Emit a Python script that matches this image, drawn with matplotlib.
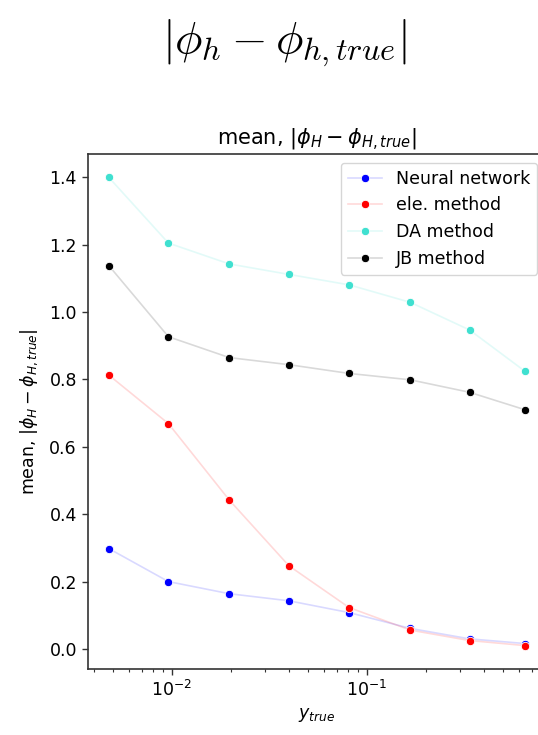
import matplotlib
matplotlib.use("Agg")
import matplotlib.pyplot as plt

# y_true bin centres
y_true = [0.00475, 0.0096, 0.0197, 0.0398, 0.081, 0.167, 0.336, 0.648]

neural = [0.298, 0.200, 0.164, 0.143, 0.108, 0.061, 0.030, 0.016]
ele = [0.813, 0.669, 0.442, 0.247, 0.123, 0.056, 0.025, 0.010]
da = [1.400, 1.205, 1.143, 1.112, 1.081, 1.029, 0.947, 0.824]
jb = [1.138, 0.927, 0.865, 0.844, 0.818, 0.799, 0.762, 0.710]

series = [
    ("Neural network", neural, "blue"),
    ("ele. method", ele, "red"),
    ("DA method", da, "turquoise"),
    ("JB method", jb, "black"),
]

FS = 12.5

fig = plt.figure(figsize=(5.38, 7.35), dpi=100)
fig.patch.set_facecolor("white")

# big header rendered like LaTeX
fig.text(0.528, 0.942, r"$|\phi_h - \phi_{h,true}|$", ha="center", va="center",
         fontsize=33, math_fontfamily="cm")

ax = fig.add_axes([0.1636, 0.0898, 0.8513, 0.7007])

for label, vals, c in series:
    rgba = matplotlib.colors.to_rgba(c, 0.15)
    ax.plot(y_true, vals, color=rgba, linewidth=1.2, marker="o", markersize=6,
            markerfacecolor=c, markeredgecolor="white", markeredgewidth=0.6,
            label=label)

ax.set_xscale("log")
ax.set_title(r"mean, $|\phi_H - \phi_{H,true}|$", fontsize=FS * 1.2, pad=7)
ax.set_ylabel(r"mean, $|\phi_H - \phi_{H,true}|$", fontsize=FS, labelpad=7)
ax.set_xlabel(r"$y_{true}$", fontsize=FS)
ax.set_yticks([0.0, 0.2, 0.4, 0.6, 0.8, 1.0, 1.2, 1.4])
ax.tick_params(labelsize=FS, length=4.5, width=1.0, color="#333333")
ax.tick_params(which="minor", length=2.5, width=0.8, color="#333333")
for sp in ax.spines.values():
    sp.set_linewidth(1.2)
    sp.set_color("#333333")
ax.legend(loc="upper right", fontsize=FS)

fig.savefig("out.png", dpi=100, facecolor="white")
